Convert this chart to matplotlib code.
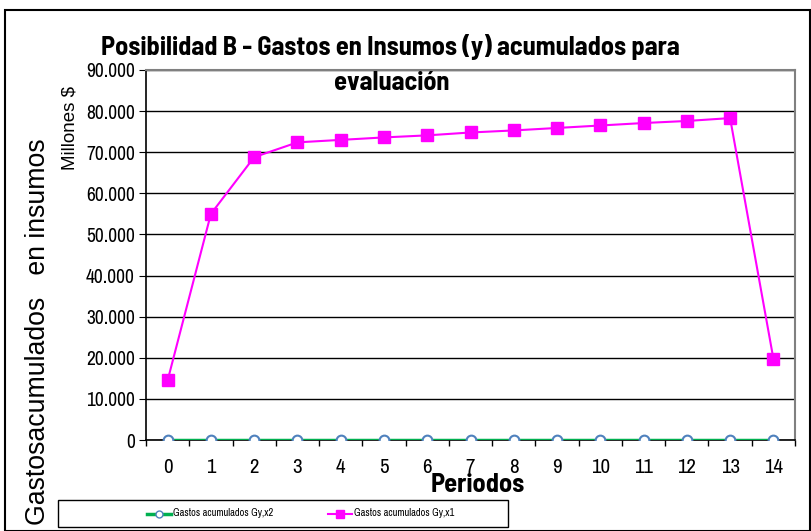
import matplotlib.pyplot as plt
from matplotlib.patches import Rectangle
from matplotlib.lines import Line2D
from matplotlib.ticker import FuncFormatter
import numpy as np

periodos = list(range(15))
# miles de millones acumulados por periodo
gastos_x1 = [14.5, 55.0, 68.8, 72.4, 73.0, 73.6, 74.1, 74.8, 75.3, 75.9, 76.5, 77.1, 77.6, 78.3, 19.8]
gastos_x2 = [0] * 15
gastos_x1 = [v * 1000 for v in gastos_x1]

narrow = ['Archivo Narrow', 'Liberation Sans', 'DejaVu Sans']
bold_cond = dict(family=['Barlow Semi Condensed', 'DejaVu Sans'], fontweight='bold')
plt.rcParams['font.family'] = ['Liberation Sans', 'DejaVu Sans']

fig = plt.figure(figsize=(8.11, 5.31), dpi=100)
W, H = 811, 531
ax = fig.add_axes([146 / W, 1 - 440 / H, (795 - 146) / W, (440 - 70) / H])

ax.plot(periodos, gastos_x2, color='#00b050', lw=2.5, marker='o', ms=7,
        mfc='white', mec='#4f81bd', mew=1.5, zorder=3)
ax.plot(periodos, gastos_x1, color='#ff00ff', lw=1.5, marker='s', ms=9,
        mfc='#ff00ff', mec='#ff00ff', zorder=4)

ax.set_xlim(-0.5, 14.5)
ax.set_ylim(0, 90000)
ax.set_yticks(np.arange(0, 90001, 10000))
ax.yaxis.set_major_formatter(FuncFormatter(
    lambda v, p: '0' if v == 0 else f'{int(v):,}'.replace(',', '.')))
ax.set_xticks(periodos)
ax.set_xticks(np.arange(-0.5, 15, 1), minor=True)
ax.tick_params(axis='x', which='major', length=0, pad=13, labelsize=15)
ax.tick_params(axis='x', which='minor', length=4, direction='out', width=1)
ax.tick_params(axis='y', length=5, direction='out', labelsize=14, pad=3)
for lbl in ax.get_xticklabels() + ax.get_yticklabels():
    lbl.set_family(narrow)

ax.grid(axis='y', color='black', lw=1)
ax.set_axisbelow(True)
for side in ['top', 'right']:
    ax.spines[side].set_color('#808080')
    ax.spines[side].set_linewidth(1.5)
ax.spines['left'].set_linewidth(1.2)
ax.spines['bottom'].set_linewidth(1.2)

fig.text(478 / W, 1 - 485 / H, 'Periodos', ha='center', va='center', fontsize=19, **bold_cond)
fig.text(390 / W, 1 - 47 / H, 'Posibilidad B - Gastos en Insumos (y) acumulados para',
         ha='center', va='center', fontsize=19, **bold_cond)
fig.text(392 / W, 1 - 83 / H, 'evaluación', ha='center', va='center',
         fontsize=19, **bold_cond)
fig.text(38 / W, 1 - 332 / H, 'Gastosacumulados   en insumos', rotation=90,
         ha='center', va='center', fontsize=19.2)
fig.text(70 / W, 1 - 128 / H, 'Millones $', rotation=90, ha='center',
         va='center', fontsize=13.5)

# marco exterior y caja de leyenda
fig.add_artist(Rectangle((5 / W, 0), 805 / W, 1 - 10 / H, transform=fig.transFigure,
                         fill=False, ec='black', lw=1.5))
fig.add_artist(Rectangle((58 / W, 1 - 527 / H), 450 / W, 27 / H, transform=fig.transFigure,
                         fill=False, ec='black', lw=1))
legend_items = [
    (147, 'Gastos acumulados Gy,x2',
     dict(color='#00b050', lw=2.5, marker='o', ms=5, mfc='white', mec='#4f81bd')),
    (328, 'Gastos acumulados Gy,x1',
     dict(color='#ff00ff', lw=1.5, marker='s', ms=6, mfc='#ff00ff', mec='#ff00ff')),
]
for x0, text, style in legend_items:
    yl = 1 - 513.5 / H
    fig.add_artist(Line2D([x0 / W, (x0 + 12) / W, (x0 + 24) / W], [yl, yl, yl],
                          transform=fig.transFigure, markevery=[1], **style))
    fig.text((x0 + 26) / W, yl, text, ha='left', va='center', fontsize=7.5, family=narrow)

fig.savefig('out.png', dpi=100)
